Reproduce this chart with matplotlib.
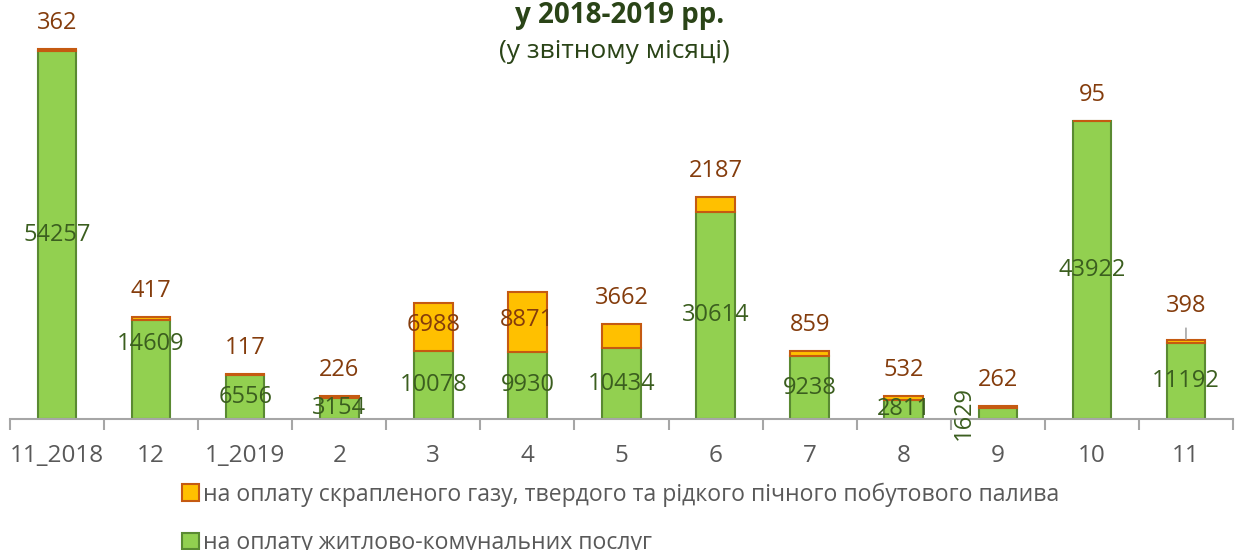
import numpy as np
import matplotlib.pyplot as plt

plt.rcParams['font.family'] = ['Open Sans', 'DejaVu Sans']

months = ['11_2018', '12', '1_2019', '2', '3', '4', '5', '6', '7', '8', '9', '10', '11']
housing = [54257, 14609, 6556, 3154, 10078, 9930, 10434, 30614, 9238, 2811, 1629, 43922, 11192]
fuel = [362, 417, 117, 226, 6988, 8871, 3662, 2187, 859, 532, 262, 95, 398]

legend_fuel = 'на оплату скрапленого газу, твердого та рідкого пічного побутового палива'
legend_housing = 'на оплату житлово-комунальних послуг'
title1 = 'у 2018-2019 рр.'
title2 = '(у звітному місяці)'

green = '#92D050'
green_edge = '#5A8A32'
orange = '#FFC000'
orange_edge = '#C55A11'
green_txt = '#3B5E1F'
brown_txt = '#843C0C'
gray_txt = '#595959'
tama = 17

W, H = 1242, 550
fig = plt.figure(figsize=(W / 100, H / 100), dpi=100)
ax = fig.add_axes([10 / W, 131 / H, 1223 / W, 419 / H])

x = np.arange(len(months))
bw = 0.41
ax.bar(x, housing, width=bw, color=green, edgecolor=green_edge, linewidth=1.5, zorder=2)
ax.bar(x, fuel, width=bw, bottom=housing, color=orange, edgecolor=orange_edge, linewidth=1.5, zorder=2)

ymax = 419 / 370 * (housing[0] + fuel[0])
ax.set_ylim(0, ymax)
ax.set_xlim(-0.5, len(months) - 0.5)

# px -> points
pt = 0.72
px_per_unit = 419 / ymax

# labels for green part
green_shift = {1: 26}
for i, v in enumerate(housing):
    if i == 10:
        ax.annotate(str(v), (i, 0), xytext=(-34 * pt, 6 * pt), textcoords='offset points',
                    ha='center', va='center', rotation=90, color=green_txt, fontsize=tama)
        continue
    ax.annotate(str(v), (i, v / 2), xytext=(0, green_shift.get(i, 0) * pt), textcoords='offset points',
                ha='center', va='center', color=green_txt, fontsize=tama)

# labels for orange part
for i, v in enumerate(fuel):
    top = housing[i] + v
    if v * px_per_unit > 40:
        ax.annotate(str(v), (i, housing[i] + v / 2), xytext=(0, 2 * pt), textcoords='offset points',
                    ha='center', va='center', color=brown_txt, fontsize=tama)
    elif i == 12:
        ax.annotate(str(v), (i, top), xytext=(0, 34 * pt), textcoords='offset points',
                    ha='center', va='center', color=brown_txt, fontsize=tama,
                    arrowprops=dict(arrowstyle='-', color='#A6A6A6', lw=1.2, shrinkA=5, shrinkB=1))
    else:
        ax.annotate(str(v), (i, top), xytext=(0, 26 * pt), textcoords='offset points',
                    ha='center', va='center', color=brown_txt, fontsize=tama)

for s in ['top', 'right', 'left']:
    ax.spines[s].set_visible(False)
ax.spines['bottom'].set_color('#A6A6A6')
ax.spines['bottom'].set_linewidth(1.5)
ax.set_yticks([])
ax.set_xticks(x)
ax.set_xticklabels(months, color=gray_txt, fontsize=17.5)
ax.tick_params(axis='x', which='major', length=0, pad=18)
ax.set_xticks(np.arange(-0.5, len(months)), minor=True)
ax.tick_params(axis='x', which='minor', length=8, width=1.5, color='#A6A6A6')

fig.text(620 / W, 1 - 15 / H, title1, ha='center', va='center', fontsize=20,
         fontweight='bold', color='#2A4417')
fig.text(614 / W, 1 - 52 / H, title2, ha='center', va='center', fontsize=19, color='#2A4417')

h1 = plt.Rectangle((0, 0), 1, 1, facecolor=orange, edgecolor=orange_edge, linewidth=1.5)
h2 = plt.Rectangle((0, 0), 1, 1, facecolor=green, edgecolor=green_edge, linewidth=1.5)
fig.legend([h1, h2], [legend_fuel, legend_housing], loc='upper left',
           bbox_to_anchor=(170 / W, 1 - 471 / H), frameon=False, fontsize=16.6,
           labelcolor=gray_txt, handlelength=0.75, handleheight=0.75, handletextpad=0.2,
           labelspacing=1.05, borderpad=0)

fig.savefig('out.png', dpi=100)
